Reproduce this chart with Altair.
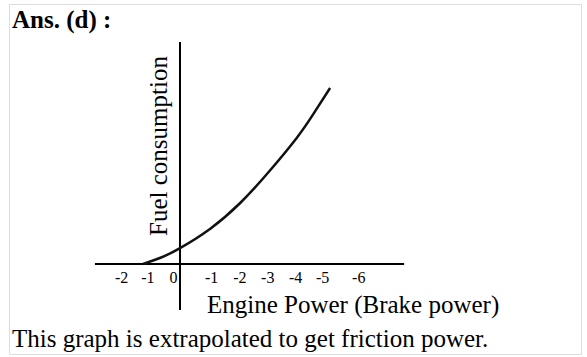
import altair as alt
import pandas as pd

# Curve (units: x along engine power axis, y fuel consumption)
curve_x = [-1.37, -0.70, 0.0, 1.11, 2.22, 3.26, 4.33, 4.93, 5.56]
curve_y = [0.0, 0.24, 0.59, 1.30, 2.25, 3.38, 4.68, 5.54, 6.52]

# Tick labels and where they sit on the horizontal axis
tick_labels = ["-2", "-1", "0", "-1", "-2", "-3", "-4", "-5", "-6"]
tick_pos = [-2.16, -1.19, -0.24, 1.17, 2.22, 3.25, 4.28, 5.28, 6.62]

# Axis line extents
h_axis_x = [-3.15, 8.30]
v_axis_y = [-1.70, 8.22]

title_text = "Ans. (d) :"
xlabel_text = "Engine Power (Brake power)"
ylabel_text = "Fuel consumption"
footer_text = "This graph is extrapolated to get friction power."

FONT = "Liberation Serif"
xs = alt.Scale(domain=[-6.333, 14.852], nice=False, zero=False)
ys = alt.Scale(domain=[-3.333, 9.63], nice=False, zero=False)

curve_df = pd.DataFrame({"x": curve_x, "y": curve_y})
ticks_df = pd.DataFrame({"x": tick_pos, "label": tick_labels})
hax_df = pd.DataFrame({"x": [h_axis_x[0]], "x2": [h_axis_x[1]], "y": [0.0]})
vax_df = pd.DataFrame({"x": [0.0], "y": [v_axis_y[0]], "y2": [v_axis_y[1]]})

hax = alt.Chart(hax_df).mark_rule(color="black", strokeWidth=2).encode(
    x=alt.X("x:Q", scale=xs, axis=None), x2="x2:Q",
    y=alt.Y("y:Q", scale=ys, axis=None))
vax = alt.Chart(vax_df).mark_rule(color="black", strokeWidth=2).encode(
    x=alt.X("x:Q", scale=xs, axis=None),
    y=alt.Y("y:Q", scale=ys, axis=None), y2="y2:Q")
curve = alt.Chart(curve_df).mark_line(color="#111", strokeWidth=2.5, interpolate="natural").encode(
    x=alt.X("x:Q", scale=xs, axis=None), y=alt.Y("y:Q", scale=ys, axis=None))
ticks = alt.Chart(ticks_df).mark_text(font=FONT, fontSize=16, color="black",
                                      align="center", baseline="alphabetic").encode(
    x=alt.X("x:Q", scale=xs, axis=None), y=alt.value(279), text="label:N")

def label(txt, x, y, size=25, weight="normal", angle=0, align="left"):
    return alt.Chart(pd.DataFrame({"t": [txt]})).mark_text(
        font=FONT, fontSize=size, fontWeight=weight, color="black",
        align=align, baseline="alphabetic", angle=angle).encode(
        x=alt.value(x), y=alt.value(y), text="t:N")

chart = alt.layer(
    hax, vax, curve, ticks,
    label(title_text, 3, 24, size=25, weight="bold"),
    label(xlabel_text, 198, 309),
    label(ylabel_text, 158, 142, angle=270, align="center"),
    label(footer_text, 3, 343),
).properties(
    width=572, height=350,
    padding={"left": 9, "top": 4, "right": 6, "bottom": 3},
    autosize=alt.AutoSizeParams(type="none"),
).configure_view(stroke="black", strokeWidth=1.5).configure(background="white")

chart.save("out.html", embed_options={"renderer": "svg", "actions": False})
